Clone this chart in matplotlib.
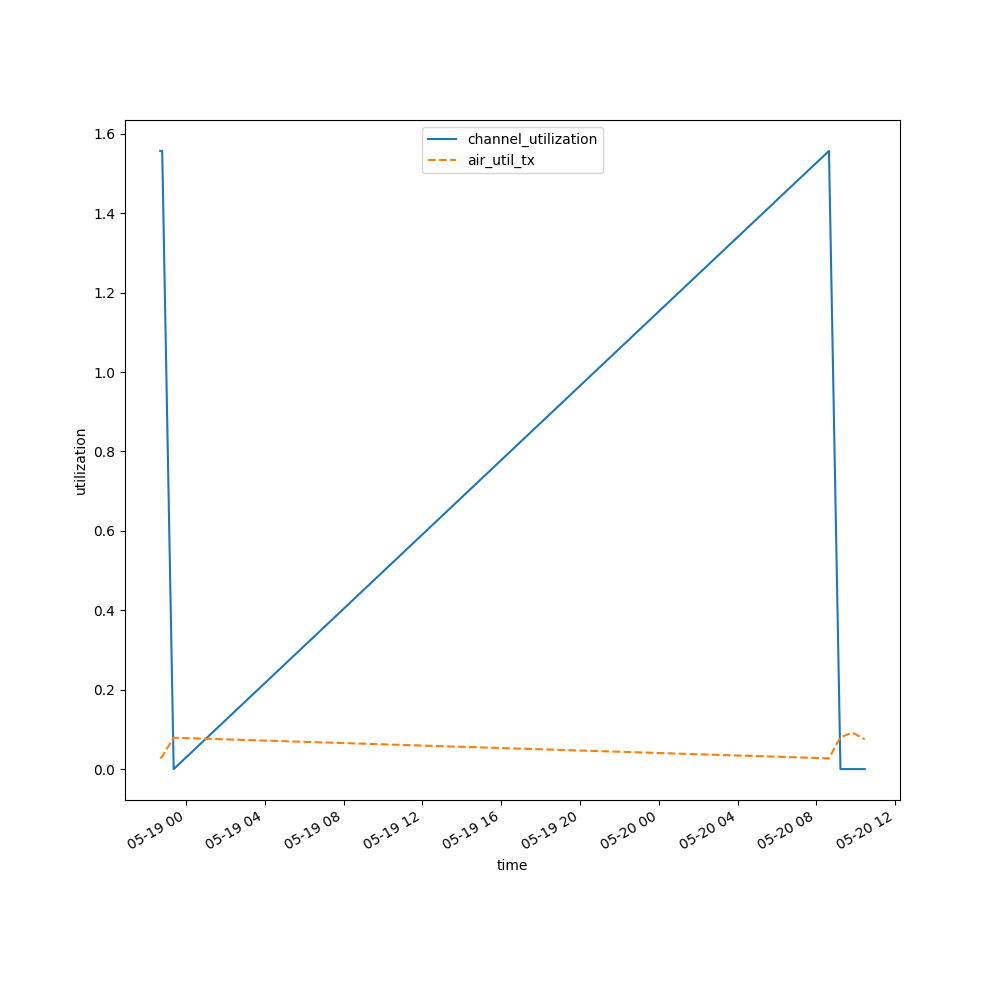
import matplotlib
matplotlib.use("Agg")
import matplotlib.pyplot as plt
import matplotlib.dates as mdates
import pandas as pd

times = pd.to_datetime([
    "2024-05-18 22:42", "2024-05-18 22:48", "2024-05-18 23:23",
    "2024-05-20 08:38", "2024-05-20 09:13", "2024-05-20 09:49",
    "2024-05-20 10:27",
])
channel_utilization = [1.557, 1.557, 0.0, 1.557, 0.0, 0.0, 0.0]
air_util_tx = [0.027, 0.032, 0.079, 0.027, 0.080, 0.092, 0.075]

fig, ax = plt.subplots(figsize=(10, 10))
ax.plot(times, channel_utilization, label="channel_utilization")
ax.plot(times, air_util_tx, linestyle="--", label="air_util_tx")
ax.set_xlabel("time")
ax.set_ylabel("utilization")
ax.xaxis.set_major_locator(mdates.HourLocator(byhour=range(0, 24, 4)))
ax.xaxis.set_major_formatter(mdates.DateFormatter("%m-%d %H"))
ax.legend(loc="upper center")
fig.autofmt_xdate()
fig.savefig("out.png", dpi=100)
